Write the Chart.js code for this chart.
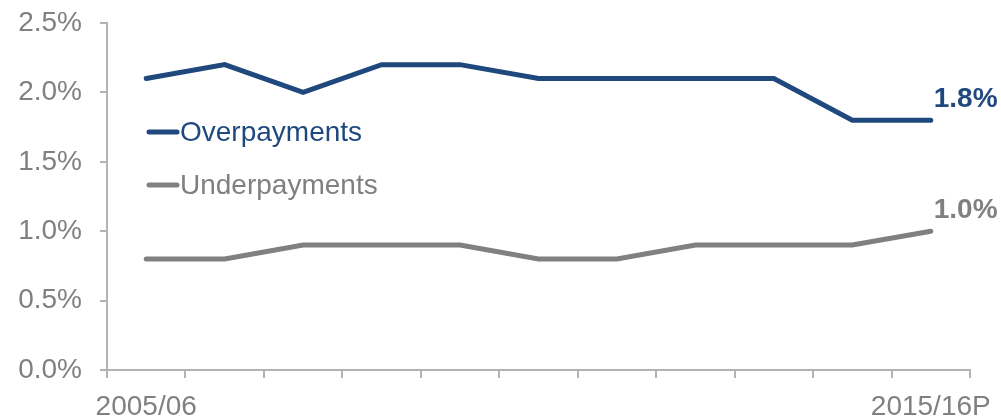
<!DOCTYPE html>
<html><head><meta charset="utf-8">
<script src="https://cdn.jsdelivr.net/npm/chart.js@4"></script>
<style>html,body{margin:0;padding:0;background:#fff}#wrap{width:1001px;height:417px}</style>
</head><body><div id="wrap"><canvas id="c" width="1001" height="417"></canvas></div>
<script>
const categories = ["2005/06","2006/07","2007/08","2008/09","2009/10","2010/11","2011/12","2012/13","2013/14","2014/15","2015/16P"];
const overpayments = [2.1, 2.2, 2.0, 2.2, 2.2, 2.1, 2.1, 2.1, 2.1, 1.8, 1.8];
const underpayments = [0.8, 0.8, 0.9, 0.9, 0.9, 0.8, 0.8, 0.9, 0.9, 0.9, 1.0];
const yTicks = [0, 0.5, 1.0, 1.5, 2.0, 2.5];
const seriesNames = ["Overpayments", "Underpayments"];

const BLUE = '#1F497D', GREY = '#808080', AXIS = '#B3B3B3';
const FONT = '"Liberation Sans", Arial, sans-serif';
const FS = 28;

const overlay = {
  id: 'overlay',
  afterDatasetsDraw(chart) {
    const ctx = chart.ctx, x = chart.scales.x, y = chart.scales.y;
    ctx.save();
    const legendY = [132, 185];
    chart.data.datasets.forEach((ds, i) => {
      const ly = legendY[i];
      ctx.strokeStyle = ds.borderColor; ctx.lineWidth = 5; ctx.lineCap = 'round';
      ctx.beginPath(); ctx.moveTo(149, ly); ctx.lineTo(177, ly); ctx.stroke();
      ctx.fillStyle = ds.borderColor; ctx.font = FS + 'px ' + FONT;
      ctx.textBaseline = 'middle'; ctx.textAlign = 'left';
      ctx.fillText(ds.label, 180, ly + 1);
      const n = ds.data.length - 1;
      const px = x.getPixelForValue(n), py = y.getPixelForValue(ds.data[n]);
      ctx.font = 'bold ' + FS + 'px ' + FONT;
      ctx.fillText(ds.data[n].toFixed(1) + '%', px + 3, py - 21);
    });
    ctx.restore();
  }
};

new Chart(document.getElementById('c'), {
  type: 'line',
  data: {
    labels: categories,
    datasets: [
      { label: seriesNames[0], data: overpayments, borderColor: BLUE, backgroundColor: BLUE, borderWidth: 5, pointRadius: 0, tension: 0, borderCapStyle: 'round', borderJoinStyle: 'miter' },
      { label: seriesNames[1], data: underpayments, borderColor: GREY, backgroundColor: GREY, borderWidth: 5, pointRadius: 0, tension: 0, borderCapStyle: 'round', borderJoinStyle: 'miter' }
    ]
  },
  options: {
    responsive: false, animation: false, devicePixelRatio: 1,
    layout: { padding: { top: 23, right: 31, left: 0, bottom: 0 } },
    plugins: { legend: { display: false }, tooltip: { enabled: false } },
    scales: {
      x: {
        offset: true,
        grid: { offset: true, drawOnChartArea: false, drawTicks: true, tickLength: 8, color: AXIS, lineWidth: 2 },
        border: { color: AXIS, width: 2 },
        ticks: {
          autoSkip: false, maxRotation: 0, padding: 12, color: GREY,
          font: { family: FONT, size: FS },
          callback: (v, i) => (i === 0 || i === categories.length - 1) ? categories[i] : ''
        },
        afterFit: s => { s.height = 47; s.paddingLeft = 0; s.paddingRight = 0; }
      },
      y: {
        min: 0, max: 2.5,
        afterBuildTicks: s => { s.ticks = yTicks.map(v => ({ value: v })); },
        grid: { drawOnChartArea: false, drawTicks: true, tickLength: 7, color: AXIS, lineWidth: 2 },
        border: { color: AXIS, width: 2 },
        ticks: {
          padding: 18, color: GREY, font: { family: FONT, size: FS },
          callback: v => v.toFixed(1) + '%'
        },
        afterFit: s => { s.width = 107; s.paddingTop = 0; s.paddingBottom = 0; }
      }
    }
  },
  plugins: [overlay]
});
</script></body></html>
